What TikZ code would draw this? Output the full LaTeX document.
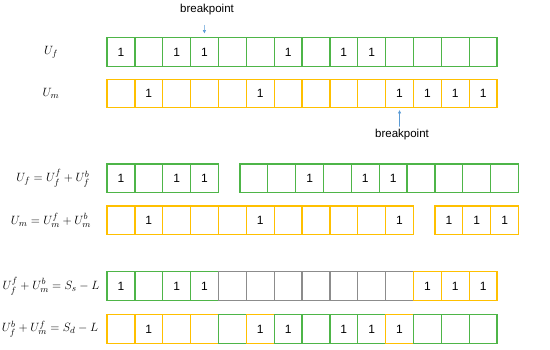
\documentclass[tikz,border=0pt]{standalone}
\usepackage{fontspec}
\setmainfont{Liberation Sans}
\usetikzlibrary{arrows.meta}
\definecolor{ufgreen}{HTML}{4EB548}
\definecolor{umgold}{HTML}{FFC000}
\definecolor{midgray}{HTML}{8C8C8C}
\definecolor{bpblue}{HTML}{5B9BD5}
\tikzset{
  cell/.style={draw, line width=1.3pt, minimum width=27.86pt, minimum height=28.6pt,
    inner sep=0pt, font=\fontsize{12}{13}\selectfont},
  rowlabel/.style={font=\fontsize{12.5}{14}\selectfont},
  eqlabel/.style={font=\fontsize{13.2}{15}\selectfont},
  bplabel/.style={font=\fontsize{11.5}{13}\selectfont, inner sep=0pt},
  bpline/.style={-{Latex[length=3.5pt,width=3.5pt]}, bpblue, line width=0.6pt}
}
\begin{document}
\begin{tikzpicture}[x=1pt,y=-1pt]
\useasboundingbox (0,0) rectangle (550,349);
% row labels
\node[rowlabel] (lf) at (51,52) {$U_f$};
\node[rowlabel] (lm) at (51,93.5) {$U_m$};
\node[eqlabel] (lfs) at (53,178.4) {$U_f = U_f^f + U_f^b$};
\node[eqlabel] (lms) at (51,220.4) {$U_m = U_m^f + U_m^b$};
\node[eqlabel] (lss) at (51,286) {$U_f^f + U_m^b = S_s - L$};
\node[eqlabel] (lsd) at (50,329) {$U_f^b + U_m^f = S_d - L$};
% U_f and U_m
\foreach \v [count=\i from 0] in {1,0,1,1,0,0,1,0,1,1,0,0,0,0}
  \node[cell, draw=ufgreen] (uf\i) at ({120.93+\i*27.86},52) {\ifnum\v=1 1\fi};
\foreach \v [count=\i from 0] in {0,1,0,0,0,1,0,0,0,0,1,1,1,1}
  \node[cell, draw=umgold] (um\i) at ({120.93+\i*27.86},93.5) {\ifnum\v=1 1\fi};
% split at the breakpoints
\foreach \v [count=\i from 0] in {1,0,1,1,0,0,1,0,1,1,0,0,0,0}{
  \pgfmathsetmacro{\sh}{\i>3 ? 21.5 : 0}
  \node[cell, draw=ufgreen] (ufs\i) at ({120.93+\i*27.86+\sh},178.4) {\ifnum\v=1 1\fi};
}
\foreach \v [count=\i from 0] in {0,1,0,0,0,1,0,0,0,0,1,1,1,1}{
  \pgfmathsetmacro{\sh}{\i>10 ? 21.5 : 0}
  \node[cell, draw=umgold] (ums\i) at ({120.93+\i*27.86+\sh},220.4) {\ifnum\v=1 1\fi};
}
% recombined
\foreach \v/\c [count=\i from 0] in {1/ufgreen,0/ufgreen,1/ufgreen,1/ufgreen,0/midgray,0/midgray,
    0/midgray,0/midgray,0/midgray,0/midgray,0/midgray,1/umgold,1/umgold,1/umgold}
  \node[cell, draw=\c] (ss\i) at ({120.93+\i*27.86},286) {\ifnum\v=1 1\fi};
\foreach \v/\c [count=\i from 0] in {0/umgold,1/umgold,0/umgold,0/umgold,0/ufgreen,1/umgold,
    1/ufgreen,0/ufgreen,1/ufgreen,1/ufgreen,1/umgold,0/ufgreen,0/ufgreen,0/ufgreen}
  \node[cell, draw=\c] (sd\i) at ({120.93+\i*27.86},329) {\ifnum\v=1 1\fi};
% breakpoints
\node[bplabel] (bptop) at (207,9.5) {breakpoint};
\coordinate (bpt) at (204.3,25);
\draw[bpline, shorten >=3.5pt] (bpt) -- (uf3.north);
\node[bplabel] (bpbot) at (402,134.5) {breakpoint};
\coordinate (bpb) at (399.5,126.5);
\draw[bpline, shorten >=1.5pt] (bpb) -- (um10.south);
\end{tikzpicture}
\end{document}
